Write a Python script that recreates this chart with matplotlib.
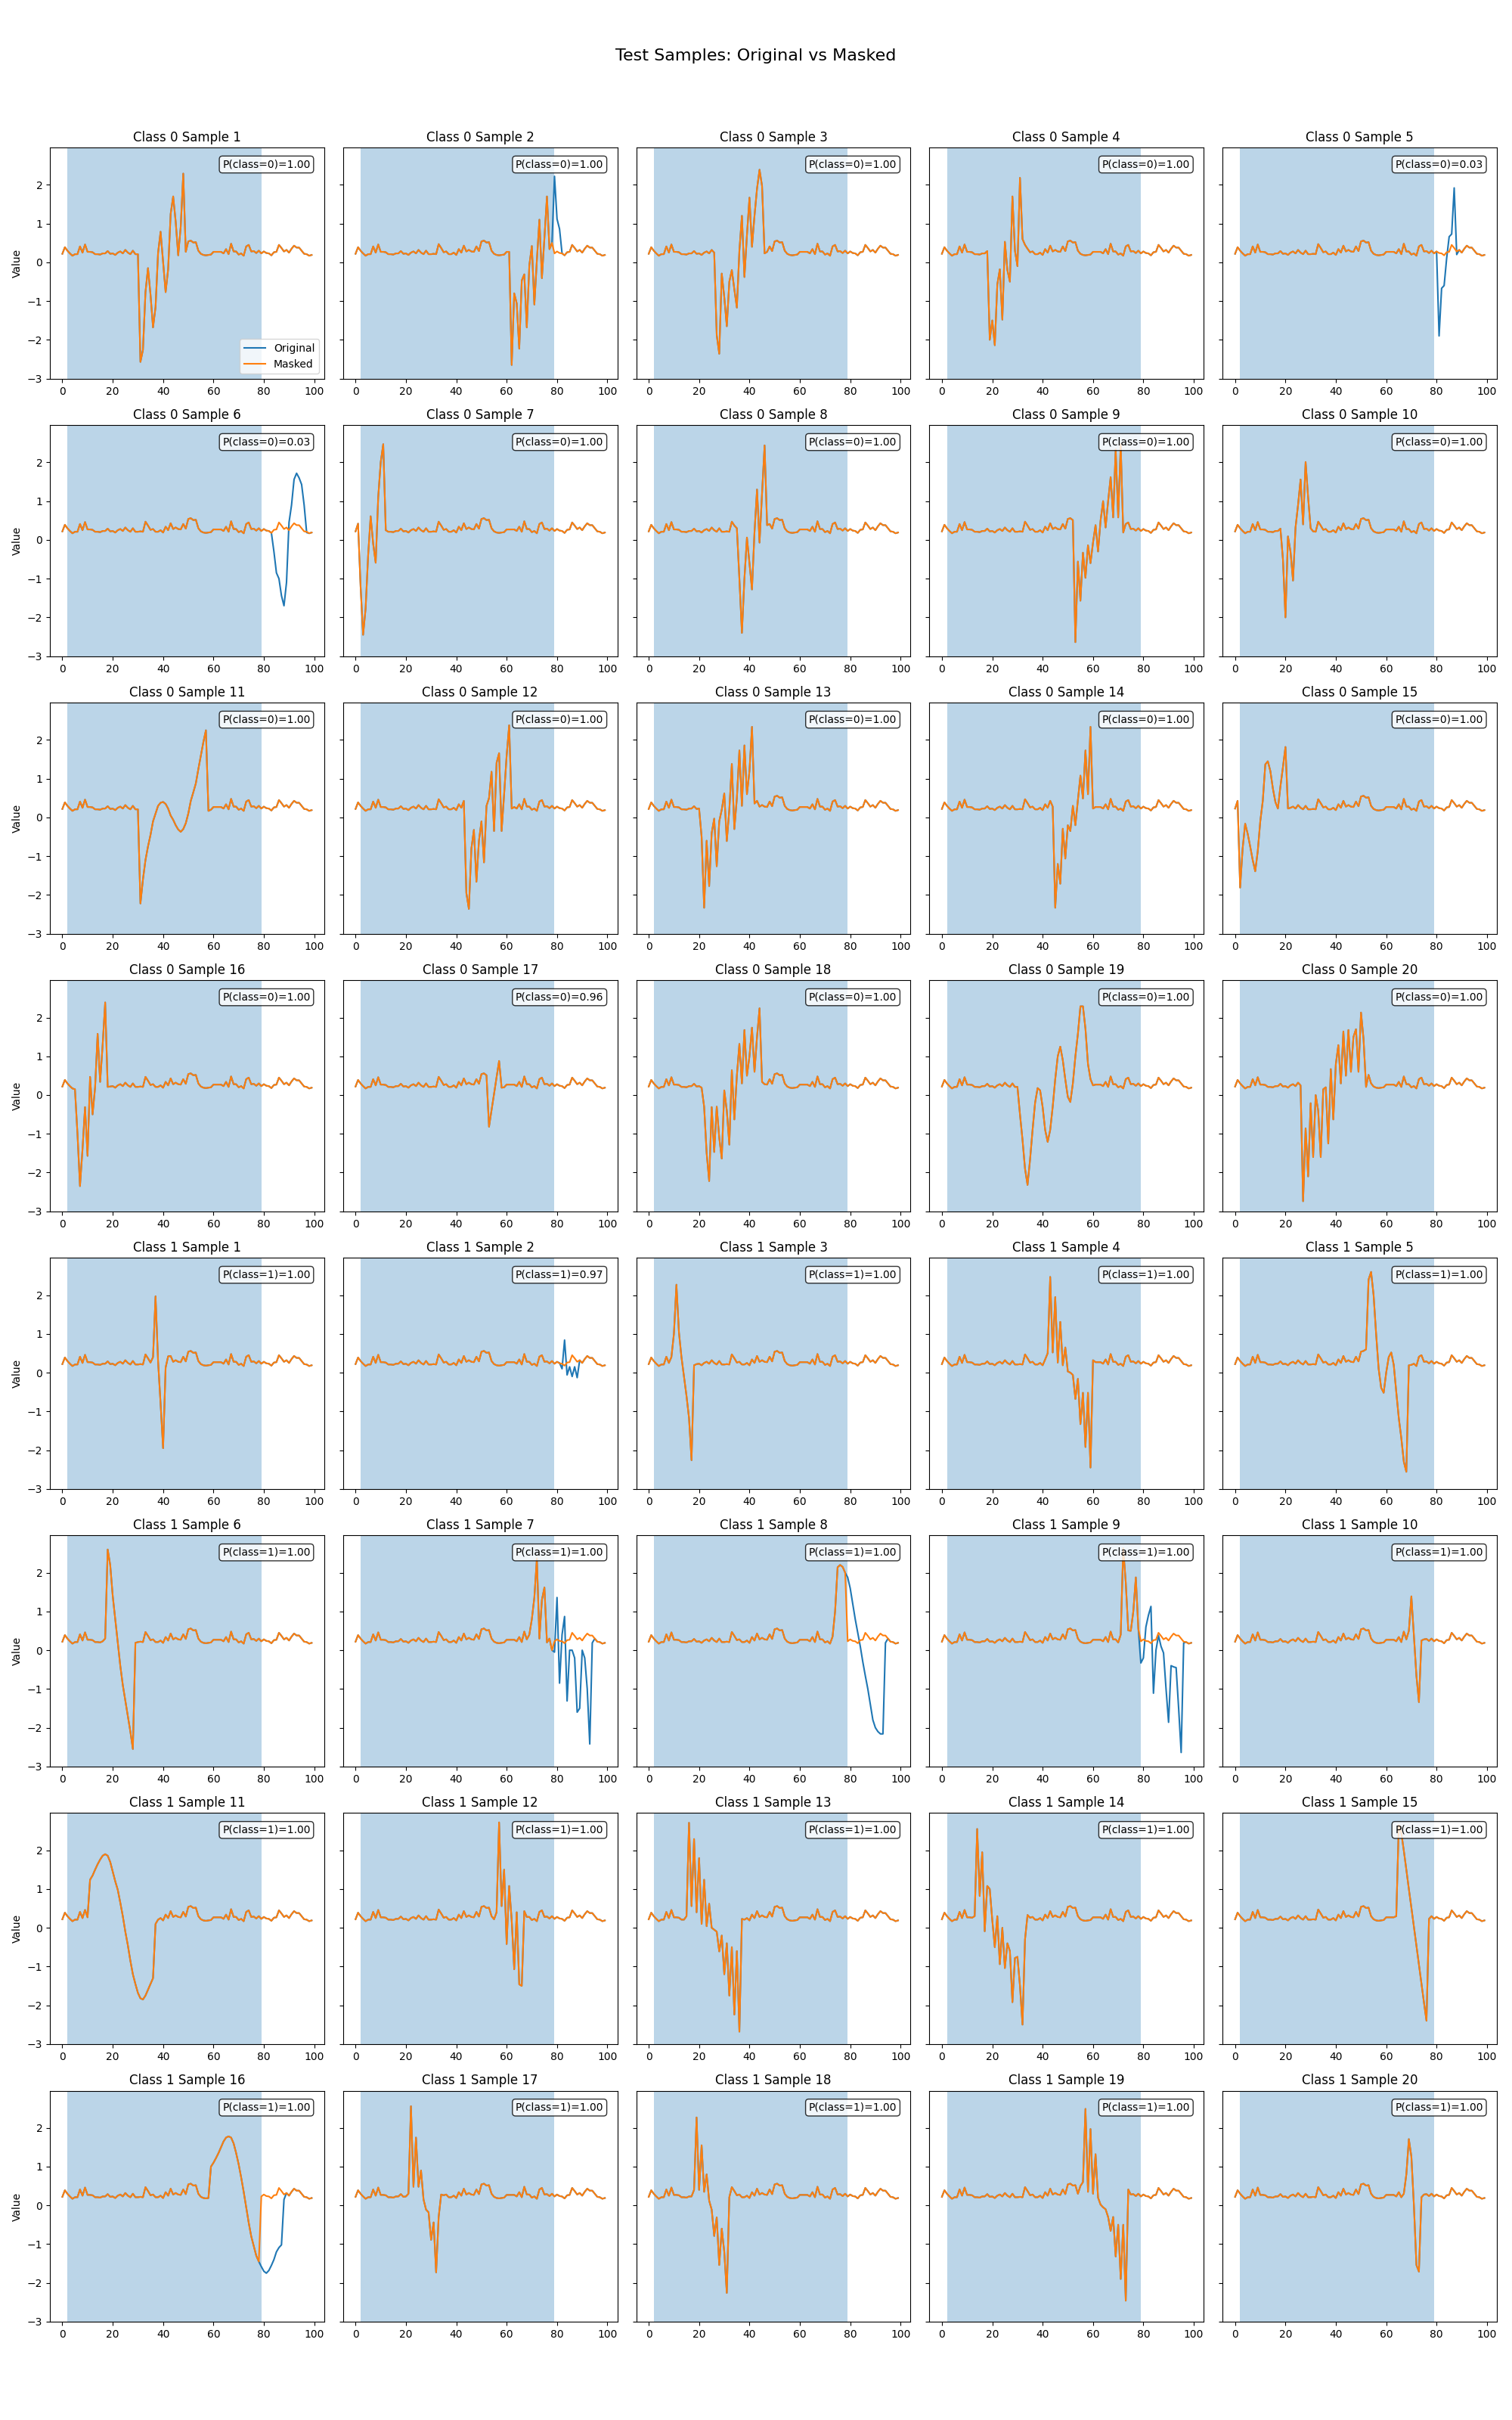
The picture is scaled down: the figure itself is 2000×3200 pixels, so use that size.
import numpy as np
import matplotlib
matplotlib.use("Agg")
import matplotlib.pyplot as plt

# shared background signal (same in every sample)
BASELINE = [
    0.22, 0.39, 0.30, 0.23, 0.17, 0.21, 0.21, 0.41, 0.25, 0.46,
    0.27, 0.27, 0.26, 0.21, 0.21, 0.20, 0.23, 0.23, 0.29, 0.22,
    0.23, 0.19, 0.25, 0.28, 0.23, 0.32, 0.25, 0.21, 0.30, 0.21,
    0.21, 0.22, 0.21, 0.47, 0.37, 0.26, 0.28, 0.21, 0.21, 0.25,
    0.19, 0.34, 0.25, 0.43, 0.28, 0.32, 0.28, 0.27, 0.41, 0.29,
    0.54, 0.56, 0.51, 0.52, 0.30, 0.22, 0.19, 0.18, 0.19, 0.20,
    0.27, 0.27, 0.27, 0.27, 0.23, 0.34, 0.21, 0.48, 0.28, 0.28,
    0.20, 0.23, 0.17, 0.41, 0.45, 0.28, 0.29, 0.24, 0.30, 0.23,
    0.28, 0.24, 0.23, 0.18, 0.26, 0.27, 0.45, 0.37, 0.28, 0.32,
    0.25, 0.35, 0.43, 0.38, 0.38, 0.30, 0.22, 0.21, 0.17, 0.19,
]

# class 0 events: start index and values
CLASS0_STARTS = [31, 62, 27, 19, 81, 84, 1, 35, 53, 19,
                 31, 44, 21, 45, 0, 5, 53, 22, 31, 27]
CLASS0_EVENTS = [
    [-2.57, -2.26, -0.77, -0.15, -0.83, -1.68, -1.16, 0.24, 0.79, 0.01,
     -0.77, -0.18, 1.25, 1.70, 1.05, 0.18, 0.92, 2.29, 0.27],
    [-2.65, -0.80, -1.06, -2.23, -0.47, -0.31, -1.68, -0.08, 0.42, -1.09,
     0.05, 1.10, -0.41, 0.63, 1.70, 0.34, 0.50, 2.22, 1.12, 0.86],
    [-1.88, -2.36, -0.29, -0.9, -1.65, -0.5, -0.2, -0.7, -1.17, 0.3,
     1.2, -0.38, 0.7, 1.67, 0.4, 1.2, 1.9, 2.39, 1.97, 0.23],
    [-2.0, -1.5, -2.14, -0.57, -0.18, -1.48, 0.53, -0.2, -0.5, 1.7,
     0.3, -0.1, 2.18, 0.6, 0.45, 0.35],
    [-1.9, -0.67, -0.6, 0.1, 0.66, 0.73, 1.92, 0.2],
    [-0.3, -0.85, -1.0, -1.44, -1.7, -1.1, 0.45, 0.9, 1.56, 1.72,
     1.6, 1.43, 0.9, 0.19],
    [0.42, -1.2, -2.45, -1.77, -0.4, 0.61, -0.1, -0.59, 1.1, 2.01,
     2.47, 0.25],
    [0.3, -1.0, -2.4, -1.0, 0.06, -0.6, -1.28, 0.2, 1.3, -0.07,
     1.2, 2.44, 0.38],
    [-2.64, -0.56, -1.57, -0.33, -0.98, -0.14, -0.6, -0.07, 0.38, -0.3,
     0.5, 1.0, 0.32, 1.0, 1.62, 0.58, 2.34, 0.58, 2.47, 0.19],
    [-0.5, -2.0, 0.09, -0.3, -1.05, 0.32, 0.9, 1.56, 0.4, 2.01,
     1.1, 0.3],
    [-2.22, -1.6, -1.1, -0.75, -0.45, -0.1, 0.1, 0.3, 0.38, 0.4,
     0.35, 0.23, 0.05, -0.06, -0.2, -0.31, -0.37, -0.3, -0.15, 0.1,
     0.43, 0.65, 0.88, 1.25, 1.6, 1.95, 2.25, 0.17],
    [-1.95, -2.36, -0.8, -0.32, -1.66, -0.6, -0.1, -1.16, 0.3, 0.5,
     1.18, -0.35, 1.41, 1.66, -0.35, 0.6, 1.6, 2.38, 0.23],
    [-0.5, -2.33, -0.6, -1.77, -0.4, -0.03, -1.26, -0.1, 0.2, 0.62,
     -0.61, 0.2, 1.38, -0.3, 0.5, 1.73, 0.3, 1.86, 0.6, 1.2,
     2.34, 0.36],
    [-2.33, -1.2, -1.71, -0.29, -1.06, -0.2, -0.35, 0.3, -0.2, 0.45,
     1.08, 0.49, 1.73, 0.6, 2.34, 0.23],
    [0.23, 0.43, -1.81, -0.8, -0.16, -0.42, -0.75, -1.1, -1.39, -0.87,
     -0.1, 0.43, 1.37, 1.45, 1.2, 0.75, 0.4, 0.23, 0.8, 1.3,
     1.82, 0.23],
    [0.15, -1.0, -2.35, -1.4, -0.31, -1.57, 0.47, -0.5, 0.2, 1.58,
     0.34, 1.3, 2.39, 0.21],
    [-0.82, -0.39, 0.03, 0.46, 0.88],
    [-0.3, -1.5, -2.22, -0.31, -1.47, -0.3, -1.1, -1.64, 0.12, -0.4,
     -1.28, 0.64, -0.63, 0.5, 1.32, 0.3, 1.68, 0.5, 1.0, 1.74,
     0.6, 1.5, 2.24, 0.34],
    [-0.5, -1.15, -1.9, -2.32, -1.67, -0.9, -0.2, 0.18, 0.12, -0.31,
     -0.9, -1.21, -0.9, -0.3, 0.41, 1.0, 1.25, 0.9, 0.4, -0.05,
     -0.18, 0.3, 1.0, 1.58, 2.29, 2.29, 1.71, 0.8, 0.41, 0.25],
    [-2.74, -0.86, -2.1, -0.21, -1.6, 0.0, -0.4, -1.6, 0.15, 0.2,
     -1.25, 0.67, -0.63, 0.8, 1.29, 0.3, 1.64, 0.5, 1.68, 0.6,
     1.5, 1.7, 0.6, 2.13, 1.45, 0.21],
]
CLASS0_PROBS = [1.00, 1.00, 1.00, 1.00, 0.03, 0.03, 1.00, 1.00, 1.00, 1.00,
                1.00, 1.00, 1.00, 1.00, 1.00, 1.00, 0.96, 1.00, 1.00, 1.00]

# class 1 events
CLASS1_STARTS = [36, 81, 9, 42, 52, 17, 69, 73, 71, 69,
                 11, 56, 15, 13, 64, 59, 21, 18, 55, 67]
CLASS1_EVENTS = [
    [0.4, 1.97, 0.3, -0.8, -1.95, 0.13, 0.42],
    [0.25, 0.1, 0.84, -0.06, 0.15, -0.1, 0.15, -0.13, 0.32],
    [0.4, 1.0, 2.27, 1.04, 0.4, -0.1, -0.6, -1.17, -2.26, 0.19],
    [0.5, 2.47, 0.52, 1.95, 0.26, 1.31, 0.19, 0.65, 0.03, 0.0,
     -0.06, -0.68, -0.16, -1.33, -0.52, -1.92, -0.52, -2.45, 0.32],
    [0.6, 2.4, 2.6, 2.0, 1.0, 0.1, -0.39, -0.52, 0.0, 0.4,
     0.52, 0.2, -0.5, -1.17, -1.69, -2.3, -2.56, 0.19],
    [0.3, 2.6, 2.2, 1.4, 0.8, 0.2, -0.4, -0.9, -1.3, -1.7,
     -2.1, -2.55, 0.19],
    [0.4, 0.8, 1.36, 2.37, 0.3, 1.3, 1.62, 0.2, 0.3, 0.0,
     -0.05, 1.36, -0.85, 0.4, 0.87, -1.31, 0.0, 0.0, -0.2, -1.6,
     -1.5, 0.0, -0.2, -1.0, -2.42, 0.19],
    [0.35, 1.0, 2.14, 2.2, 2.15, 2.0, 1.88, 1.6, 1.2, 0.8,
     0.45, 0.1, -0.3, -0.66, -1.0, -1.4, -1.8, -2.0, -2.1, -2.16,
     -2.16, 0.19],
    [0.4, 2.63, 1.75, 0.51, 0.5, 1.0, 1.88, 0.55, -0.33, -0.2,
     0.6, 0.9, 1.13, -1.11, 0.0, 0.38, 0.1, -0.07, -1.0, -1.86,
     -0.4, -0.43, -0.45, -1.5, -2.64, 0.19],
    [0.5, 1.39, 0.38, -0.66, -1.34, 0.25],
    [1.24, 1.35, 1.5, 1.64, 1.76, 1.86, 1.9, 1.86, 1.7, 1.45,
     1.2, 0.98, 0.65, 0.3, -0.1, -0.45, -0.85, -1.2, -1.45, -1.68,
     -1.82, -1.85, -1.75, -1.6, -1.45, -1.3, 0.1],
    [0.4, 2.72, 0.56, 1.5, -0.42, 1.08, 0.2, -1.07, 0.4, -1.46,
     -1.5, 0.43],
    [0.3, 2.71, 0.56, 2.29, 0.4, 1.8, 0.1, 1.24, 0.04, 0.62,
     0.0, -0.05, -0.1, -0.61, -0.2, -1.2, -0.4, -1.75, -0.5, -2.24,
     -0.6, -2.68, 0.23],
    [0.3, 2.55, 0.82, 1.95, -0.09, 1.08, 1.0, 0.2, -0.5, 0.3,
     -0.94, 0.0, -1.04, -0.4, -0.6, -1.92, -0.78, -0.75, -1.5, -2.5,
     -0.3, 0.33],
    [0.3, 2.65, 2.45, 1.99, 1.5, 1.0, 0.52, 0.03, -0.46, -0.95,
     -1.44, -1.93, -2.4, 0.23],
    [1.0, 1.1, 1.22, 1.35, 1.5, 1.65, 1.75, 1.78, 1.75, 1.6,
     1.35, 1.06, 0.72, 0.35, -0.05, -0.45, -0.8, -1.05, -1.3, -1.45,
     -1.58, -1.7, -1.75, -1.68, -1.55, -1.4, -1.2, -1.09, -1.02, 0.15],
    [0.3, 2.56, 0.48, 1.75, 0.48, 0.9, 0.15, -0.11, -0.18, -0.89,
     -0.44, -1.73, -0.3, 0.28],
    [0.4, 2.27, 0.4, 1.55, 0.35, 0.8, 0.12, -0.11, -0.79, -0.31,
     -1.54, -0.6, -1.2, -2.26, 0.21],
    [0.5, 0.6, 2.49, 0.35, 1.97, 0.3, 1.32, 0.2, 0.02, -0.05,
     -0.1, -0.3, -0.66, -0.3, -1.32, -0.5, -1.9, -0.5, -2.46, 0.41],
    [0.3, 0.8, 1.71, 1.26, 0.0, -1.54, -1.71, 0.21],
]
CLASS1_PROBS = [1.00, 0.97, 1.00, 1.00, 1.00, 1.00, 1.00, 1.00, 1.00, 1.00,
                1.00, 1.00, 1.00, 1.00, 1.00, 1.00, 1.00, 1.00, 1.00, 1.00]

MASK_START = 79          # masked part: tail replaced by the background
SPAN = (2, 79)           # shaded region

x = np.arange(len(BASELINE))
baseline = np.array(BASELINE)

# collect samples row by row (class 0 first, then class 1)
samples = []
for cls, starts, events, probs in [(0, CLASS0_STARTS, CLASS0_EVENTS, CLASS0_PROBS),
                                   (1, CLASS1_STARTS, CLASS1_EVENTS, CLASS1_PROBS)]:
    for k in range(len(starts)):
        orig = baseline.copy()
        orig[starts[k]:starts[k] + len(events[k])] = events[k]
        masked = orig.copy()
        masked[MASK_START:] = baseline[MASK_START:]
        samples.append((cls, k + 1, orig, masked, probs[k]))

fig, axes = plt.subplots(8, 5, figsize=(20, 32), sharey=True)
fig.subplots_adjust(left=0.033, right=0.990, top=0.939, bottom=0.0405,
                    wspace=0.069, hspace=0.2)

for idx, (cls, num, orig, masked, p) in enumerate(samples):
    ax = axes[idx // 5, idx % 5]
    ax.axvspan(SPAN[0], SPAN[1], color='C0', alpha=0.3, lw=0)
    ax.plot(x, orig, color='C0', label='Original')
    ax.plot(x, masked, color='C1', label='Masked')
    ax.set_title(f"Class {cls} Sample {num}")
    ax.text(0.95, 0.95, f"P(class={cls})={p:.2f}", transform=ax.transAxes,
            ha='right', va='top', fontsize=10,
            bbox=dict(boxstyle='round', facecolor='white', alpha=0.8))
    ax.set_ylim(-3.01, 2.96)
    if idx % 5 == 0:
        ax.set_ylabel('Value')
    if idx == 0:
        ax.legend(loc='lower right')

fig.suptitle('Test Samples: Original vs Masked', fontsize=16)
plt.savefig('out.png', dpi=100)
